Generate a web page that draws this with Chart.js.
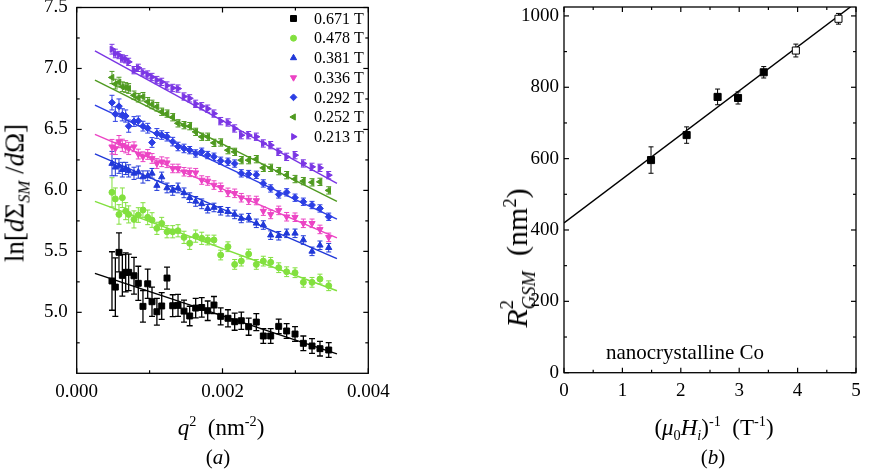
<!DOCTYPE html>
<html><head><meta charset="utf-8">
<script src="https://cdn.jsdelivr.net/npm/chart.js@4.4.1/dist/chart.umd.min.js"></script>
<style>
html,body{margin:0;padding:0;background:#fff;}
#wrap{position:relative;width:886px;height:469px;overflow:hidden;font-family:"Liberation Serif","Times New Roman",serif;color:#000;}
canvas{position:absolute;top:0;}
.t{position:absolute;white-space:nowrap;transform:translate(-50%,-50%);line-height:1;}
.rot{transform:translate(-50%,-50%) rotate(-90deg);}
sub,sup{font-size:62%;line-height:0;}
</style></head><body>
<div id="wrap">
<canvas id="ca" width="450" height="469" style="left:0"></canvas>
<canvas id="cb" width="436" height="469" style="left:450px"></canvas>
<div class="t rot" style="left:15px;top:193px;font-size:27px">ln[<i>d</i>Σ<sub><i>SM</i></sub> /<i>d</i>Ω]</div>
<div class="t" style="left:221px;top:427px;font-size:23px"><i>q</i><sup>2</sup>&nbsp; (nm<sup>-2</sup>)</div>
<div class="t" style="left:218px;top:457px;font-size:21px">(<i>a</i>)</div>
<div class="t rot" style="left:517px;top:258px;font-size:30px"><i>R</i><span style="display:inline-block;position:relative;font-size:62%;"><span style="position:absolute;left:0;top:-0.75em;">2</span><span style="position:relative;top:0.45em;"><i>GSM</i></span></span>&nbsp; (nm<sup>2</sup>)</div>
<div class="t" style="left:714px;top:427px;font-size:23px">(<i>μ</i><sub>0</sub><i>H</i><sub><i>i</i></sub>)<sup>-1</sup>&nbsp; (T<sup>-1</sup>)</div>
<div class="t" style="left:713px;top:457px;font-size:21px">(<i>b</i>)</div>
<div class="t" style="left:685px;top:352px;font-size:21px">nanocrystalline Co</div>
</div>
<script>
// ---------- panel (a) data ----------
const FIELDS = ['0.671 T','0.478 T','0.381 T','0.336 T','0.292 T','0.252 T','0.213 T'];
const q2 = [0.000484,0.000530,0.000580,0.000626,0.000672,0.000713,0.000786,0.000845,0.000909,0.000974,
            0.001033,0.001100,0.001166,0.001239,0.001317,0.001390,0.001472,0.001550,0.001632,0.001715,
            0.001797,0.001883,0.001975,0.002075,0.002167,0.002258,0.002359,0.002464,0.002560,0.002661,
            0.002771,0.002880,0.002995,0.003109,0.003228,0.003337,0.003457];
const y0671 = [5.257,5.207,5.492,5.303,5.328,5.328,5.300,5.238,5.049,5.234,
               5.087,5.005,5.052,5.281,5.054,5.057,5.010,4.970,5.035,5.040,
               5.013,5.060,4.967,4.951,4.923,4.931,4.882,4.920,4.806,4.806,
               4.885,4.847,4.822,4.746,4.724,4.702,4.691];
const y0478 = [5.984,5.930,5.803,5.940,5.830,5.803,5.762,5.798,5.839,5.779,
               5.757,5.689,5.729,5.661,5.661,5.669,5.615,5.566,5.625,5.607,
               5.593,5.593,5.470,5.538,5.393,5.420,5.478,5.393,5.420,5.410,
               5.366,5.333,5.325,5.246,5.246,5.273,5.218];
const y0381 = [6.220,6.190,6.200,6.170,6.180,6.160,6.140,6.150,6.110,6.120,
               6.140,6.040,6.110,6.020,6.000,6.020,5.980,5.940,5.910,5.890,
               5.850,5.860,5.833,5.825,5.803,5.770,5.776,5.730,5.716,5.633,
               5.628,5.648,5.648,5.593,5.500,5.550,5.530];
const y0336 = [6.358,6.344,6.400,6.370,6.358,6.344,6.358,6.298,6.276,6.295,
               6.262,6.220,6.235,6.227,6.180,6.180,6.153,6.148,6.145,6.085,
               6.077,6.044,6.025,5.984,5.976,5.940,5.920,5.917,5.830,5.803,
               5.836,5.784,5.780,5.730,5.730,5.680,5.615];
const y0292 = [6.720,6.626,6.690,6.620,6.610,6.527,6.565,6.570,6.527,6.510,
               6.393,6.467,6.454,6.440,6.400,6.360,6.344,6.330,6.303,6.317,
               6.290,6.276,6.243,6.235,6.220,6.140,6.134,6.128,6.057,6.016,
               5.967,5.984,5.940,5.907,5.880,5.852,5.784];
const y0252 = [6.926,6.872,6.888,6.850,6.844,6.836,6.780,6.760,6.768,6.727,
               6.705,6.686,6.645,6.630,6.600,6.550,6.535,6.527,6.480,6.440,
               6.440,6.390,6.393,6.330,6.316,6.248,6.248,6.256,6.185,6.185,
               6.158,6.125,6.093,6.076,6.066,6.070,6.000];
const y0213 = [7.158,7.123,7.110,7.082,7.075,7.054,6.986,7.005,6.967,6.950,
               6.930,6.905,6.890,6.860,6.840,6.835,6.770,6.755,6.710,6.690,
               6.670,6.630,6.568,6.557,6.508,6.453,6.453,6.440,6.385,6.371,
               6.316,6.275,6.289,6.221,6.193,6.185,6.125];
const e0671 = [0.24,0.24,0.16,0.17,0.16,0.15,0.15,0.14,0.13,0.12,
               0.12,0.11,0.11,0.09,0.09,0.09,0.09,0.08,0.08,0.08,
               0.08,0.07,0.07,0.07,0.07,0.07,0.07,0.07,0.06,0.06,
               0.06,0.06,0.06,0.06,0.06,0.06,0.06];
const e0478 = [0.12,0.09,0.08,0.08,0.07,0.07,0.07,0.06,0.06,0.06,
               0.06,0.05,0.05,0.05,0.05,0.05,0.05,0.05,0.05,0.05,
               0.04,0.04,0.04,0.04,0.04,0.04,0.04,0.04,0.04,0.04,
               0.04,0.04,0.04,0.04,0.04,0.04,0.04];
const e0381 = [0.10,0.07,0.06,0.06,0.05,0.05,0.05,0.05,0.05,0.04,
               0.04,0.04,0.04,0.04,0.04,0.04,0.04,0.04,0.04,0.04,
               0.035,0.035,0.035,0.035,0.035,0.035,0.035,0.035,0.035,0.035,
               0.035,0.035,0.035,0.035,0.035,0.035,0.035];
const e0336 = [0.06,0.05,0.05,0.05,0.05,0.05,0.04,0.04,0.04,0.04,
               0.04,0.04,0.04,0.04,0.035,0.035,0.035,0.035,0.035,0.035,
               0.035,0.035,0.035,0.035,0.035,0.035,0.035,0.035,0.035,0.035,
               0.035,0.035,0.035,0.035,0.035,0.035,0.035];
const e0292 = [0.06,0.06,0.06,0.05,0.05,0.05,0.04,0.04,0.04,0.04,
               0.04,0.04,0.035,0.035,0.035,0.035,0.035,0.03,0.03,0.03,
               0.03,0.03,0.03,0.03,0.03,0.03,0.03,0.03,0.03,0.03,
               0.03,0.03,0.03,0.03,0.03,0.03,0.03];
const e0252 = [0.05,0.04,0.04,0.04,0.04,0.04,0.035,0.035,0.035,0.035,
               0.035,0.035,0.03,0.03,0.03,0.03,0.03,0.03,0.03,0.03,
               0.03,0.03,0.03,0.03,0.03,0.03,0.03,0.03,0.03,0.03,
               0.03,0.03,0.03,0.03,0.03,0.03,0.03];
const e0213 = [0.04,0.035,0.03,0.03,0.03,0.03,0.03,0.03,0.03,0.03,
               0.03,0.03,0.03,0.03,0.03,0.03,0.03,0.03,0.03,0.03,
               0.03,0.03,0.03,0.03,0.03,0.03,0.03,0.03,0.03,0.03,
               0.03,0.03,0.03,0.03,0.03,0.03,0.03];
const fitX = [0.00025, 0.00357];
const fitStart = [5.320, 5.910, 6.300, 6.459, 6.700, 6.904, 7.144];
const fitEnd   = [4.660, 5.177, 5.440, 5.610, 5.765, 5.910, 6.057];
const xTicksA = [0, 0.002, 0.004];
const xMinorA = [0.001, 0.003];
const yTicksA = [5.0, 5.5, 6.0, 6.5, 7.0, 7.5];
const yMinorA = [4.75, 5.25, 5.75, 6.25, 6.75, 7.25];

// ---------- panel (b) data ----------
const invField = [1.49, 2.10, 2.63, 2.98, 3.42, 3.97, 4.70];
const rgsm     = [596, 666, 773, 770, 842, 903, 992];
const rgsmErr  = [37, 23, 22, 17, 16, 18, 15];
const measuredFilled = [true, true, true, true, true, false, false];
const fitBX = [0, 5];
const fitBY = [420, 1037];
const xTicksB = [0, 1, 2, 3, 4, 5];
const xMinorB = [0.5, 1.5, 2.5, 3.5, 4.5];
const yTicksB = [0, 200, 400, 600, 800, 1000];
const yMinorB = [100, 300, 500, 700, 900];

// ---------- styles ----------
const SERIES_Y = [y0671, y0478, y0381, y0336, y0292, y0252, y0213];
const SERIES_E = [e0671, e0478, e0381, e0336, e0292, e0252, e0213];
const STYLE = [
  {c:'#000000', ps:'rect', rot:0, r:4.2, cap:3},
  {c:'#82e03e', ps:'circle', rot:0, r:3, cap:2.5},
  {c:'#2038d8', ps:'triangle', rot:0, r:3.6, cap:2.5},
  {c:'#ec44c4', ps:'triangle', rot:180, r:3.6, cap:2.5},
  {c:'#2c3ee4', ps:'rectRot', rot:0, r:3.4, cap:2.5},
  {c:'#4f9a20', ps:'triangle', rot:-90, r:3.6, cap:2.5},
  {c:'#7a36e4', ps:'triangle', rot:90, r:3.6, cap:2.5}
];
const FONT = '"Liberation Serif","Times New Roman",serif';

function drawMarker(ctx, st, x, y) {
  if (Chart.helpers && Chart.helpers.drawPoint) {
    ctx.save();
    ctx.fillStyle = st.c; ctx.strokeStyle = st.c; ctx.lineWidth = 1;
    Chart.helpers.drawPoint(ctx, {pointStyle: st.ps, rotation: st.rot, radius: st.r, borderWidth: 1}, x, y);
    ctx.restore();
  }
}

const errPlugin = {
  id: 'errbars',
  beforeDatasetsDraw(chart) {
    const ctx = chart.ctx, ys = chart.scales.y;
    chart.data.datasets.forEach((ds, i) => {
      if (!ds.errors) return;
      const meta = chart.getDatasetMeta(i);
      ctx.save();
      ctx.strokeStyle = ds.errColor || ds.borderColor;
      ctx.lineWidth = ds.errWidth || 1;
      meta.data.forEach((pt, j) => {
        const v = ds.data[j].y, e = ds.errors[j];
        const y1 = ys.getPixelForValue(v + e), y2 = ys.getPixelForValue(v - e);
        const x = pt.x, c = ds.cap;
        ctx.beginPath();
        ctx.moveTo(x, y1); ctx.lineTo(x, y2);
        ctx.moveTo(x - c, y1); ctx.lineTo(x + c, y1);
        ctx.moveTo(x - c, y2); ctx.lineTo(x + c, y2);
        ctx.stroke();
      });
      ctx.restore();
    });
  }
};

const framePlugin = {
  id: 'frame',
  afterDraw(chart, args, o) {
    const {ctx, chartArea: a} = chart;
    const xs = chart.scales.x, ys = chart.scales.y;
    ctx.save();
    ctx.strokeStyle = '#000'; ctx.lineWidth = 1.3;
    ctx.strokeRect(a.left, a.top, a.right - a.left, a.bottom - a.top);
    ctx.lineWidth = 1.2;
    const seg = (x1, y1, x2, y2) => { ctx.beginPath(); ctx.moveTo(x1, y1); ctx.lineTo(x2, y2); ctx.stroke(); };
    const xt = (vals, L) => vals.forEach(v => { const p = xs.getPixelForValue(v); seg(p, a.bottom, p, a.bottom - L); seg(p, a.top, p, a.top + L); });
    const yt = (vals, L) => vals.forEach(v => { const p = ys.getPixelForValue(v); seg(a.left, p, a.left + L, p); seg(a.right, p, a.right - L, p); });
    xt(o.xMajor, 5); xt(o.xMinor, 3); yt(o.yMajor, 5); yt(o.yMinor, 3);
    ctx.restore();
  }
};

const legendPlugin = {
  id: 'sideLegend',
  afterDraw(chart, args, o) {
    if (!o.show) return;
    const ctx = chart.ctx;
    ctx.save();
    ctx.font = '16px ' + FONT; ctx.fillStyle = '#000'; ctx.textBaseline = 'middle'; ctx.textAlign = 'left';
    let row = 0;
    chart.data.datasets.forEach(ds => {
      if (ds.isFit) return;
      const y = o.y0 + row * o.dy;
      drawMarker(ctx, ds.st, o.mx, y);
      ctx.fillStyle = '#000';
      ctx.fillText(ds.label, o.tx, y + 1);
      row++;
    });
    ctx.restore();
  }
};

function axisCommon(ticksArr, fmt, pad, fitFn) {
  return {
    type: 'linear',
    grid: {display: false, drawTicks: false},
    border: {display: false},
    ticks: {font: {family: FONT, size: 19}, color: '#000', padding: pad, callback: fmt, maxRotation: 0, autoSkip: false},
    afterBuildTicks: s => { s.ticks = ticksArr.map(v => ({value: v})); },
    afterFit: fitFn
  };
}

// ---------- chart (a) ----------
const dsA = [];
FIELDS.forEach((lab, i) => {
  const st = STYLE[i];
  dsA.push({
    label: lab, st: st,
    data: q2.map((x, j) => ({x: x, y: SERIES_Y[i][j]})),
    errors: SERIES_E[i], cap: st.cap, errWidth: i === 0 ? 1.3 : 1,
    pointStyle: st.ps, rotation: st.rot, pointRadius: st.r,
    backgroundColor: st.c, borderColor: st.c, borderWidth: 1, showLine: false, order: 1
  });
});
FIELDS.forEach((lab, i) => {
  dsA.push({
    label: lab + ' fit', isFit: true,
    data: [{x: fitX[0], y: fitStart[i]}, {x: fitX[1], y: fitEnd[i]}],
    showLine: true, pointRadius: 0, borderColor: STYLE[i].c, borderWidth: 1.4, order: 2
  });
});

new Chart(document.getElementById('ca'), {
  type: 'scatter',
  data: {datasets: dsA},
  options: {
    responsive: false, animation: false, devicePixelRatio: 1,
    layout: {padding: {left: 0, top: 7.5, right: 81.7, bottom: 0}},
    plugins: {
      legend: {display: false}, tooltip: {enabled: false},
      frame: {xMajor: xTicksA, xMinor: xMinorA, yMajor: yTicksA, yMinor: yMinorA},
      sideLegend: {show: true, mx: 293.5, tx: 314, y0: 18.5, dy: 19.7}
    },
    scales: {
      x: Object.assign(axisCommon(xTicksA, v => Number(v).toFixed(3), 7,
            s => { s.height = 469 - 373.3; s.paddingLeft = 0; s.paddingRight = 0; }), {min: 0, max: 0.004}),
      y: Object.assign(axisCommon(yTicksA, v => Number(v).toFixed(1), 9,
            s => { s.width = 76.7; s.paddingTop = 0; s.paddingBottom = 0; }), {min: 4.5, max: 7.5})
    }
  },
  plugins: [errPlugin, framePlugin, legendPlugin]
});

// ---------- chart (b) ----------
const filledPts = [], openPts = [], filledErr = [], openErr = [];
invField.forEach((x, j) => {
  if (measuredFilled[j]) { filledPts.push({x: x, y: rgsm[j]}); filledErr.push(rgsmErr[j]); }
  else { openPts.push({x: x, y: rgsm[j]}); openErr.push(rgsmErr[j]); }
});
const dsB = [
  {label: 'fit', isFit: true, data: [{x: fitBX[0], y: fitBY[0]}, {x: fitBX[1], y: fitBY[1]}],
   showLine: true, pointRadius: 0, borderColor: '#000', borderWidth: 1.4, order: 2},
  {label: 'filled', data: filledPts, errors: filledErr, cap: 2.5, errColor: '#000',
   pointStyle: 'rect', pointRadius: 5, backgroundColor: '#000', borderColor: '#000', borderWidth: 1, order: 1},
  {label: 'open', data: openPts, errors: openErr, cap: 2.5, errColor: '#000',
   pointStyle: 'rect', pointRadius: 5, backgroundColor: '#fff', borderColor: '#000', borderWidth: 1, order: 0}
];
new Chart(document.getElementById('cb'), {
  type: 'scatter',
  data: {datasets: dsB},
  options: {
    responsive: false, animation: false, devicePixelRatio: 1,
    layout: {padding: {left: 0, top: 7, right: 30, bottom: 0}},
    plugins: {
      legend: {display: false}, tooltip: {enabled: false},
      frame: {xMajor: xTicksB, xMinor: xMinorB, yMajor: yTicksB, yMinor: yMinorB},
      sideLegend: {show: false}
    },
    scales: {
      x: Object.assign(axisCommon(xTicksB, v => String(v), 7,
            s => { s.height = 469 - 372.7; s.paddingLeft = 0; s.paddingRight = 0; }), {min: 0, max: 5}),
      y: Object.assign(axisCommon(yTicksB, v => String(v), 5,
            s => { s.width = 114; s.paddingTop = 0; s.paddingBottom = 0; }), {min: 0, max: 1025})
    }
  },
  plugins: [errPlugin, framePlugin, legendPlugin]
});
</script>
</body></html>
